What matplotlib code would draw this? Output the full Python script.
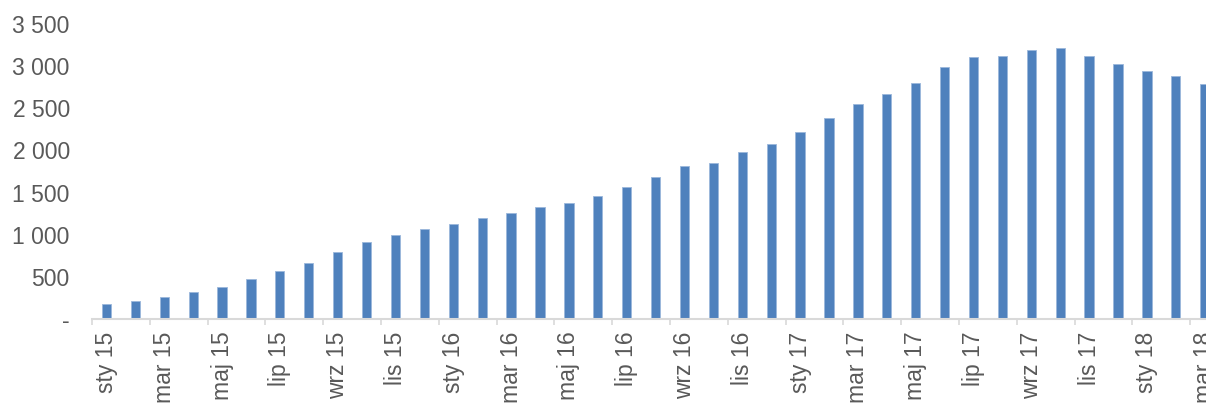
import matplotlib
matplotlib.use('Agg')

import matplotlib.pyplot as plt
import numpy as np

months = ['sty', 'lut', 'mar', 'kwi', 'maj', 'cze', 'lip', 'sie', 'wrz', 'paź', 'lis', 'gru']
years = ['15', '16', '17', '18']
labels = [m + ' ' + y for y in years for m in months][:39]

values = [174, 214, 261, 324, 380, 475, 573, 664, 791, 910, 996,
          1068, 1127, 1194, 1257, 1329, 1380, 1463, 1562, 1681, 1815, 1847,
          1977, 2072, 2222, 2381, 2547, 2665, 2796, 2993, 3108, 3123, 3195,
          3211, 3116, 3025, 2942, 2883, 2788]

yticks = [0, 500, 1000, 1500, 2000, 2500, 3000, 3500]
ytick_labels = ['-', '500', '1 000', '1 500', '2 000', '2 500', '3 000', '3 500']

plt.rcParams['font.family'] = ['Liberation Sans', 'DejaVu Sans']

fig = plt.figure(figsize=(12.06, 4.05), dpi=100)
ax = fig.add_axes([0.0763, 0.2123, 0.9346, 0.7284])

x = np.arange(len(values))
ax.bar(x, values, width=0.32, color='#4F81BD', edgecolor='#9BB7DB', linewidth=0.6)

ax.set_xlim(-0.5, len(values) - 0.5)
ax.set_ylim(0, 3500)

# tick marks between categories, labels on every second category
ax.set_xticks(np.arange(-0.5, len(values), 2))
ax.set_xticklabels([])
ax.tick_params(axis='x', which='major', length=6 * 0.72, width=1.2, color='#D9D9D9')
ax.set_xticks(x[::2], minor=True)
ax.set_xticklabels(labels[::2], minor=True, rotation=90, ha='center', va='top')
ax.tick_params(axis='x', which='minor', length=0, pad=9, labelsize=16.5, labelcolor='#595959')

ax.set_yticks(yticks)
ax.set_yticklabels(ytick_labels)
ax.tick_params(axis='y', length=0, pad=16, labelsize=16.5, labelcolor='#595959')

for s in ['top', 'right', 'left']:
    ax.spines[s].set_visible(False)
ax.spines['bottom'].set_color('#D9D9D9')
ax.spines['bottom'].set_linewidth(1.5)

plt.savefig('out.png', dpi=100)
